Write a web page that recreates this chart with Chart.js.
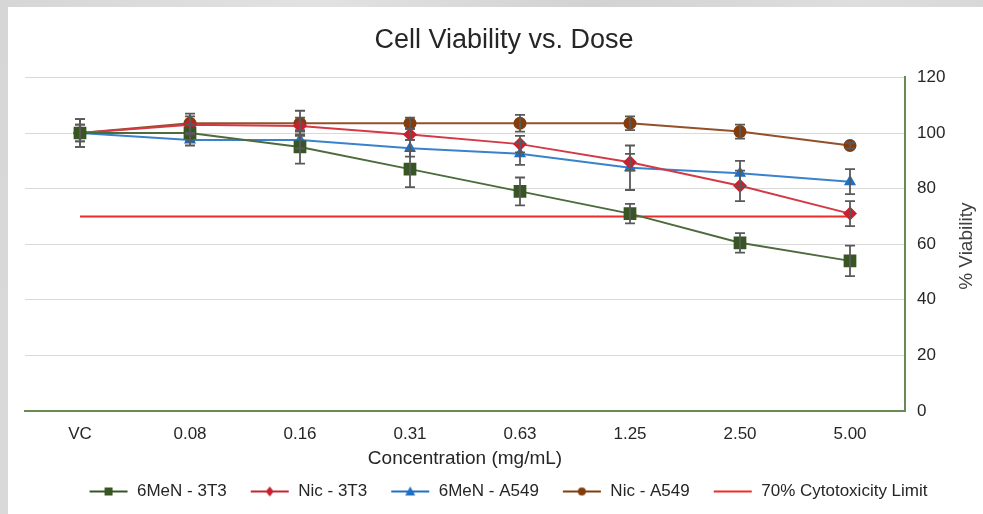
<!DOCTYPE html>
<html><head><meta charset="utf-8">
<script src="https://cdn.jsdelivr.net/npm/chart.js@4.4.0/dist/chart.umd.min.js"></script>
<style>
html,body{margin:0;padding:0;width:983px;height:514px;overflow:hidden;}
body{background:linear-gradient(100deg,#d6d6d6 0%,#e2e2e2 30%,#d2d2d2 55%,#dedede 80%,#d4d4d4 100%);position:relative;}
#card{position:absolute;left:8px;top:7px;width:975px;height:507px;background:#fff;}
canvas{display:block;}
</style></head><body>
<div id="card"><canvas id="c" width="975" height="507" style="width:975px;height:507px"></canvas></div>
<script>
const categories = ['VC','0.08','0.16','0.31','0.63','1.25','2.50','5.00'];
const men3t3     = [100, 100, 95, 87, 79, 71, 60.5, 54];
const men3t3Err  = [5, 3, 6, 6.5, 5, 3.5, 3.5, 5.5];
const nic3t3     = [100, 103, 102.5, 99.5, 96, 89.5, 81, 71];
const nic3t3Err  = [3, 3, 3, 2, 3, 3, 5.5, 4.5];
const men549     = [100, 97.5, 97.5, 94.5, 92.5, 87.5, 85.5, 82.5];
const men549Err  = [3, 2, 3, 3, 4, 8, 4.5, 4.5];
const nicA549    = [100, 103.5, 103.5, 103.5, 103.5, 103.5, 100.5, 95.5];
const nicA549Err = [5, 3.5, 4.5, 2, 3, 2.5, 2.5, 1];
const limit70    = [70, 70, 70, 70, 70, 70, 70, 70];
const yTicks     = [0, 20, 40, 60, 80, 100, 120];

const FONT = "'Liberation Sans', Arial, sans-serif";

function legendIcon(color, style, r) {
  const cv = document.createElement('canvas');
  cv.width = 48; cv.height = 14;
  const c = cv.getContext('2d');
  const cx = 28, cy = 7;
  c.strokeStyle = color; c.lineWidth = 2;
  c.beginPath(); c.moveTo(9, cy); c.lineTo(47, cy); c.stroke();
  c.fillStyle = color;
  if (style === 'rect') { c.fillRect(cx - r, cy - r, 2*r, 2*r); }
  else if (style === 'circle') { c.beginPath(); c.arc(cx, cy, r, 0, Math.PI*2); c.fill(); }
  else if (style === 'triangle') { c.beginPath(); c.moveTo(cx, cy - r - 1); c.lineTo(cx + r + 1, cy + r); c.lineTo(cx - r - 1, cy + r); c.closePath(); c.fill(); }
  else if (style === 'rectRot') { c.beginPath(); c.moveTo(cx, cy - r - 1); c.lineTo(cx + r, cy); c.lineTo(cx, cy + r + 1); c.lineTo(cx - r, cy); c.closePath(); c.fill(); }
  return cv;
}

const series = [
  {label:'6MeN - 3T3', data:men3t3, err:men3t3Err, color:'#375623', line:'#4d6b3c', style:'rect', r:9},
  {label:'Nic - 3T3', data:nic3t3, err:nic3t3Err, color:'#c8202e', line:'#d33a46', style:'rectRot', r:7},
  {label:'6MeN - A549', data:men549, err:men549Err, color:'#1f6fc2', line:'#3a82cc', style:'triangle', r:7},
  {label:'Nic - A549', data:nicA549, err:nicA549Err, color:'#843c0c', line:'#93502a', style:'circle', r:6.5}
];

const datasets = series.map(s => ({
  label: s.label, data: s.data, err: s.err,
  borderColor: s.line, backgroundColor: s.color, borderWidth: 2,
  pointStyle: s.style, pointRadius: s.r, pointBackgroundColor: s.color, pointBorderColor: s.color,
  pointBorderWidth: 0, tension: 0, legendIcon: legendIcon(s.color, s.style, 4)
}));
datasets.push({
  label: '70% Cytotoxicity Limit', data: limit70, borderColor: '#ee2b2b', backgroundColor: '#ee2b2b',
  borderWidth: 2, pointRadius: 0, legendIcon: legendIcon('#ee2b2b', 'none', 0)
});

const errorBars = {
  id: 'errorBars',
  afterDatasetsDraw(chart) {
    const ctx = chart.ctx, y = chart.scales.y, x = chart.scales.x;
    ctx.save();
    ctx.strokeStyle = '#595959'; ctx.lineWidth = 1.8;
    chart.data.datasets.forEach(ds => {
      if (!ds.err) return;
      ds.data.forEach((v, i) => {
        const e = ds.err[i]; if (!e) return;
        const px = x.getPixelForValue(i);
        const t = y.getPixelForValue(v + e), b = y.getPixelForValue(v - e);
        ctx.beginPath();
        ctx.moveTo(px, t); ctx.lineTo(px, b);
        ctx.moveTo(px - 5, t); ctx.lineTo(px + 5, t);
        ctx.moveTo(px - 5, b); ctx.lineTo(px + 5, b);
        ctx.stroke();
      });
    });
    ctx.restore();
  }
};

const yTitle = {
  id: 'yTitle',
  afterDraw(chart) {
    const ctx = chart.ctx, y = chart.scales.y;
    ctx.save();
    ctx.translate(y.right - 16, (y.top + y.bottom) / 2 + 2);
    ctx.rotate(-Math.PI / 2);
    ctx.font = "19px " + FONT;
    ctx.fillStyle = '#404040';
    ctx.textAlign = 'center'; ctx.textBaseline = 'middle';
    ctx.fillText('% Viability', 0, 0);
    ctx.restore();
  }
};

new Chart(document.getElementById('c'), {
  type: 'line',
  data: { labels: categories, datasets },
  options: {
    responsive: false, animation: false,
    layout: { padding: { left: 17, right: 0, top: 0, bottom: 4 } },
    plugins: {
      title: { display: true, text: 'Cell Viability vs. Dose', color: '#262626',
        font: { family: FONT, size: 27, weight: 'normal', lineHeight: 1.2 }, padding: { top: 17, bottom: 21 } },
      legend: { position: 'bottom',
        labels: { usePointStyle: true, pointStyleWidth: 48, boxHeight: 17, padding: 15,
          color: '#262626', font: { family: FONT, size: 17 },
          generateLabels(chart) {
            const items = Chart.defaults.plugins.legend.labels.generateLabels(chart);
            items.forEach(it => { it.pointStyle = chart.data.datasets[it.datasetIndex].legendIcon; });
            return items;
          } } },
      tooltip: { enabled: false }
    },
    scales: {
      x: {
        offset: true,
        grid: { display: false, drawTicks: false },
        border: { display: true, color: '#6a8a55', width: 2 },
        ticks: { color: '#262626', font: { family: FONT, size: 17, lineHeight: 1.0 }, padding: 14.5, maxRotation: 0 },
        title: { display: true, text: 'Concentration (mg/mL)', color: '#262626',
          font: { family: FONT, size: 19, lineHeight: 1.0 }, padding: { top: -8, bottom: 0 } }
      },
      y: {
        position: 'right', min: 0, max: 120,
        afterBuildTicks(s) { s.ticks = yTicks.map(v => ({ value: v })); },
        afterFit(s) { s.width = 78; },
        grid: { color: '#d9d9d9', lineWidth: 1, drawTicks: false },
        border: { display: true, color: '#6a8a55', width: 2 },
        ticks: { color: '#262626', font: { family: FONT, size: 17 }, padding: 12 }
      }
    }
  },
  plugins: [errorBars, yTitle]
});
</script>
</body></html>
